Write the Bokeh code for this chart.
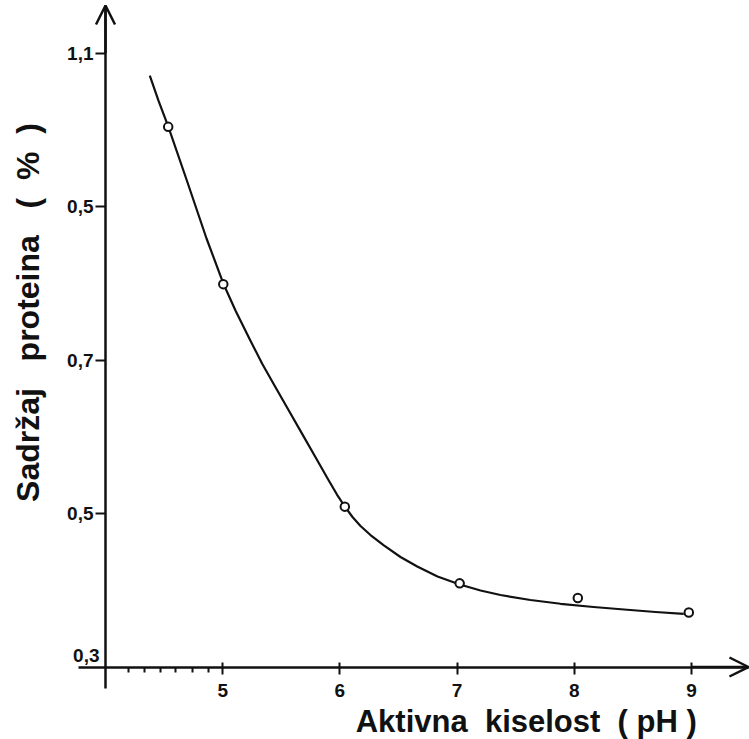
from bokeh.plotting import figure
from bokeh.models import LinearAxis, FixedTicker, Range1d, Label, Arrow, OpenHead, Grid
from bokeh.embed import file_html
from bokeh.resources import INLINE

# ---- data ----
ph = [4.535, 5.005, 6.042, 7.022, 8.03, 8.977]
protein = [1.004, 0.799, 0.509, 0.409, 0.390, 0.371]

curve_ph = [4.378, 4.452, 4.535, 4.697, 4.862, 5.009, 5.109, 5.223, 5.337, 5.4505,
            5.564, 5.678, 5.792, 5.905, 5.975, 6.042, 6.1075, 6.176, 6.261, 6.375,
            6.517, 6.660, 6.833, 7.023, 7.200, 7.370, 7.626, 7.882, 8.164, 8.451,
            8.693, 8.934]
curve_protein = [1.0709, 1.0381, 1.0045, 0.9328, 0.8585, 0.7985, 0.7647, 0.7295, 0.6952, 0.6647,
                 0.6343, 0.6039, 0.5734, 0.5431, 0.5248, 0.5092, 0.4955, 0.4838, 0.4720, 0.4584,
                 0.4434, 0.4310, 0.4180, 0.4075, 0.3997, 0.3938, 0.3873, 0.3824, 0.3782, 0.3746,
                 0.3717, 0.3693]

x_ticks = [5, 6, 7, 8, 9]
x_tick_labels = ["5", "6", "7", "8", "9"]
x_minor_ticks = [4.2, 4.33, 4.47, 4.6, 4.74, 4.88]
y_ticks = [0.3, 0.5, 0.7, 0.9, 1.1]
y_tick_labels = ["0,3", "0,5", "0,7", "0,5", "1,1"]

NB = "\u00a0"
x_title = "Aktivna" + NB * 2 + "kiselost" + NB * 2 + "(" + NB + "pH" + NB + ")"
y_title = "Sadržaj" + NB * 3 + "proteina" + NB * 3 + "(" + NB * 2 + "%" + NB * 2 + ")"

FONT = "Liberation Sans"
INK = "#111111"

# the plotting frame covers the whole canvas so nothing gets clipped;
# axes are placed inside it with fixed_location and bounded lines
p = figure(width=749, height=739,
           x_range=Range1d(3.1041, 9.4949), y_range=Range1d(0.20551, 1.16869),
           x_axis_location=None, y_axis_location=None,
           output_backend="svg", toolbar_location=None,
           min_border_left=0, min_border_right=0, min_border_top=0, min_border_bottom=0)
p.outline_line_color = None
p.background_fill_color = "white"
p.border_fill_color = "white"
for g in p.select(type=Grid):
    g.visible = False

x0 = x_ticks[0] - 1   # position of the vertical axis (pH 4)
y0 = y_ticks[0]       # position of the horizontal axis
x_arrow_tip = 9.486
y_arrow_tip = 1.1622

xaxis = LinearAxis(fixed_location=y0, bounds=(3.77, x_arrow_tip))
xaxis.ticker = FixedTicker(ticks=x_ticks, minor_ticks=x_minor_ticks)
xaxis.major_label_overrides = {t: l for t, l in zip(x_ticks, x_tick_labels)}
xaxis.axis_line_width = 2.5
xaxis.axis_line_color = INK
xaxis.major_tick_in = 5
xaxis.major_tick_out = 7
xaxis.major_tick_line_width = 2
xaxis.major_tick_line_color = INK
xaxis.minor_tick_in = 0
xaxis.minor_tick_out = 5
xaxis.minor_tick_line_width = 2
xaxis.minor_tick_line_color = INK
xaxis.major_label_standoff = 10
xaxis.major_label_text_font = FONT
xaxis.major_label_text_font_style = "bold"
xaxis.major_label_text_font_size = "19px"
xaxis.major_label_text_color = INK
p.add_layout(xaxis, "below")

yaxis = LinearAxis(fixed_location=x0, bounds=(0.272, y_arrow_tip))
yaxis.ticker = FixedTicker(ticks=y_ticks[1:], minor_ticks=[])
yaxis.major_label_overrides = {t: l for t, l in zip(y_ticks[1:], y_tick_labels[1:])}
yaxis.axis_line_width = 2.5
yaxis.axis_line_color = INK
yaxis.major_tick_in = 0
yaxis.major_tick_out = 10
yaxis.major_tick_line_width = 2
yaxis.major_tick_line_color = INK
yaxis.minor_tick_line_color = None
yaxis.major_label_standoff = 2
yaxis.major_label_text_font = FONT
yaxis.major_label_text_font_style = "bold"
yaxis.major_label_text_font_size = "19px"
yaxis.major_label_text_color = INK
p.add_layout(yaxis, "left")

# the "0,3" label sits just above the axis corner
p.add_layout(Label(x=x0, y=y0, text=y_tick_labels[0], x_offset=-6, y_offset=12,
                   text_align="right", text_baseline="alphabetic",
                   text_font=FONT, text_font_style="bold", text_font_size="19px",
                   text_color=INK))

# arrow heads on the axes
p.add_layout(Arrow(end=OpenHead(size=19, line_width=2.5, line_color=INK),
                   x_start=x0, y_start=y_ticks[-1], x_end=x0, y_end=y_arrow_tip,
                   line_width=2.5, line_color=INK))
p.add_layout(Arrow(end=OpenHead(size=19, line_width=2.5, line_color=INK),
                   x_start=x_ticks[-1], y_start=y0, x_end=x_arrow_tip, y_end=y0,
                   line_width=2.5, line_color=INK))

# fitted curve and measured points
p.line(curve_ph, curve_protein, line_width=2.2, line_color=INK, line_join="round")
p.scatter(ph, protein, marker="circle", size=8.5, fill_color="white",
          line_color=INK, line_width=2.0)

# axis titles
p.add_layout(Label(x=7.59, y=0.229, text=x_title, text_align="center",
                   text_baseline="alphabetic", text_font=FONT, text_font_style="bold",
                   text_font_size="31px", text_color=INK))
p.add_layout(Label(x=3.343, y=0.762, text=y_title, angle=1.5707963, text_align="center",
                   text_baseline="alphabetic", text_font=FONT, text_font_style="bold",
                   text_font_size="32px", text_color=INK))

open("out.html", "w").write(file_html(p, INLINE))
